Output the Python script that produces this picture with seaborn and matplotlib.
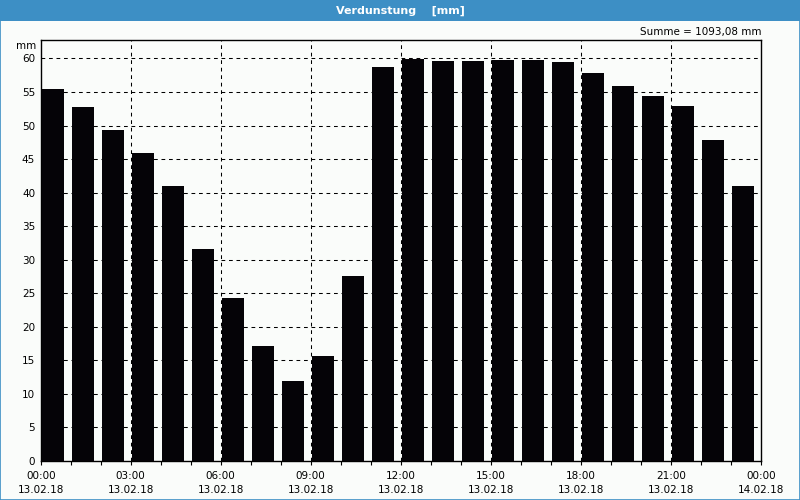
import numpy as np
import pandas as pd
import matplotlib
matplotlib.use("Agg")
import matplotlib.pyplot as plt
from matplotlib.patches import Rectangle
import seaborn as sns

# ---- data ----
hours = list(range(24))
values = [55.4, 52.8, 49.3, 45.9, 41.0, 31.6, 24.3, 17.1, 11.9, 15.6, 27.6, 58.7,
          59.9, 59.6, 59.6, 59.8, 59.8, 59.5, 57.8, 55.9, 54.4, 52.9, 47.8, 41.0]
tick_times = ["00:00", "03:00", "06:00", "09:00", "12:00", "15:00", "18:00", "21:00", "00:00"]
tick_dates = ["13.02.18"] * 8 + ["14.02.18"]
y_ticks = list(range(0, 61, 5))
title = "Verdunstung    [mm]"
sum_label = "Summe = 1093,08 mm"
unit = "mm"

sns.set_theme(style="white")
plt.rcParams['font.family'] = ['DejaVu Sans']
plt.rcParams['text.color'] = 'black'
plt.rcParams['xtick.color'] = 'black'
plt.rcParams['ytick.color'] = 'black'

bg = "#fafcfa"
blue = "#3d8fc5"
bar_color = "#050307"

fig = plt.figure(figsize=(8, 5), dpi=100, facecolor=bg)
ax = fig.add_axes([40.7 / 800, 39 / 500, 720 / 800, (461 - 40.3) / 500])
ax.set_facecolor(bg)

df = pd.DataFrame({"hour": hours, "value": values})
sns.barplot(data=df, x="hour", y="value", color=bar_color, saturation=1,
            width=0.733, ax=ax, zorder=3, linewidth=0)

off = 0.411
ax.set_xlim(-off, 24 - off)
ax.set_ylim(0, 62.7)

major = np.arange(0, 25, 3) - off
minor = np.arange(0, 25, 1) - off
ax.set_xticks(major)
ax.set_xticks(minor, minor=True)
ax.set_xticklabels([f"{t}\n{d}" for t, d in zip(tick_times, tick_dates)],
                   fontsize=7.5, linespacing=1.55, color="black")
ax.set_yticks(y_ticks)
ax.set_yticklabels([str(v) for v in y_ticks], fontsize=7.5, color="black")
ax.tick_params(axis="x", which="both", direction="out", length=3, width=0.8,
               color="black", pad=4, bottom=True)
ax.tick_params(axis="y", length=0, pad=4)
ax.set_xlabel("")
ax.set_ylabel("")

dash = (0, (3.6, 3.6))
for y in y_ticks[1:]:
    ax.axhline(y, color="black", lw=0.75, ls=dash, zorder=1)
for x in major[1:-1]:
    ax.axvline(x, color="black", lw=0.75, ls=dash, zorder=1)

for s in ax.spines.values():
    s.set_visible(True)
    s.set_color("black")
    s.set_linewidth(1.0)

ax.text(-0.006, 0.986, unit, transform=ax.transAxes, ha="right", va="center",
        fontsize=7.5, color="black")
fig.text(761 / 800, 1 - 32.5 / 500, sum_label, ha="right", va="center",
         fontsize=7.5, color="black")

# title bar and frame
fig.patches.append(Rectangle((0, 1 - 21 / 500), 1, 21 / 500, transform=fig.transFigure,
                             facecolor=blue, edgecolor="none", zorder=0))
fig.text(0.5, 1 - 10.5 / 500, title, ha="center", va="center", color="white",
         fontsize=8, fontweight="bold")
fig.patches.append(Rectangle((0.0006, 0.001), 0.9988, 0.998, transform=fig.transFigure,
                             facecolor="none", edgecolor=blue, lw=1.2, zorder=5))

fig.savefig("out.png", dpi=100, facecolor=bg)
